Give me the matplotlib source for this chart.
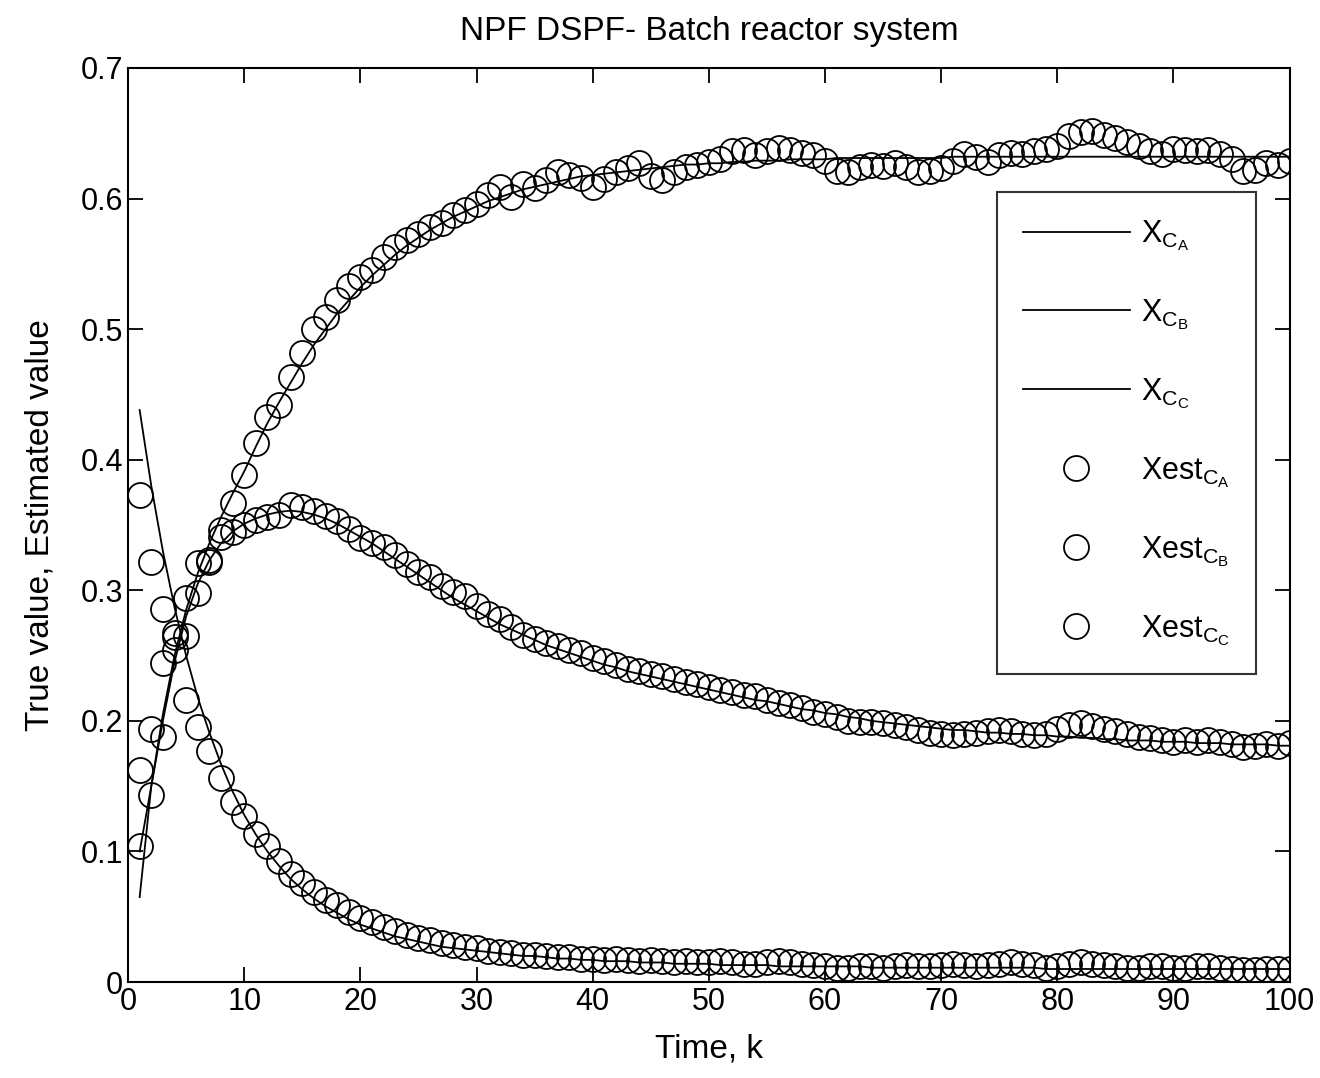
import matplotlib
matplotlib.use('Agg')
import matplotlib.pyplot as plt
import numpy as np

#### Data ####
k = np.arange(1, 101)

xA_true = [0.438, 0.380, 0.330, 0.287, 0.250, 0.218, 0.191, 0.167, 0.146, 0.128,
           0.113, 0.100, 0.089, 0.079, 0.071, 0.064, 0.058, 0.053, 0.048, 0.044,
           0.041, 0.038, 0.035, 0.033, 0.031, 0.029, 0.027, 0.026, 0.025, 0.024,
           0.023, 0.022, 0.021, 0.020, 0.020, 0.019, 0.018, 0.018, 0.017, 0.017,
           0.016, 0.016, 0.016, 0.015, 0.015, 0.015, 0.014, 0.014, 0.014, 0.014,
           0.013, 0.013, 0.013, 0.013, 0.013, 0.012, 0.012, 0.012, 0.012, 0.012,
           0.012, 0.012, 0.012, 0.011, 0.011, 0.011, 0.011, 0.011, 0.011, 0.011,
           0.011, 0.011, 0.011, 0.011, 0.011, 0.011, 0.011, 0.011, 0.010, 0.010,
           0.010, 0.010, 0.010, 0.010, 0.010, 0.010, 0.010, 0.010, 0.010, 0.010,
           0.010, 0.010, 0.010, 0.010, 0.010, 0.010, 0.010, 0.010, 0.010, 0.010]

xB_true = [0.100, 0.150, 0.200, 0.245, 0.280, 0.305, 0.323, 0.336, 0.345, 0.351,
           0.355, 0.358, 0.360, 0.361, 0.360, 0.358, 0.355, 0.351, 0.346, 0.341,
           0.336, 0.330, 0.324, 0.318, 0.312, 0.306, 0.300, 0.294, 0.289, 0.284,
           0.279, 0.274, 0.270, 0.266, 0.262, 0.258, 0.255, 0.252, 0.249, 0.246,
           0.243, 0.241, 0.238, 0.236, 0.234, 0.232, 0.230, 0.228, 0.226, 0.224,
           0.222, 0.220, 0.218, 0.216, 0.215, 0.213, 0.211, 0.209, 0.208, 0.206,
           0.205, 0.203, 0.202, 0.200, 0.199, 0.198, 0.197, 0.196, 0.195, 0.194,
           0.193, 0.193, 0.192, 0.191, 0.191, 0.190, 0.190, 0.189, 0.189, 0.188,
           0.188, 0.187, 0.187, 0.186, 0.186, 0.185, 0.185, 0.185, 0.184, 0.184,
           0.184, 0.183, 0.183, 0.183, 0.182, 0.182, 0.182, 0.182, 0.181, 0.181]

xC_true = [0.065, 0.150, 0.205, 0.250, 0.285, 0.313, 0.336, 0.356, 0.374, 0.391,
           0.410, 0.428, 0.444, 0.459, 0.474, 0.488, 0.500, 0.512, 0.522, 0.532,
           0.541, 0.549, 0.557, 0.564, 0.570, 0.576, 0.581, 0.586, 0.590, 0.594,
           0.598, 0.601, 0.604, 0.607, 0.609, 0.611, 0.613, 0.615, 0.617, 0.618,
           0.619, 0.620, 0.621, 0.622, 0.623, 0.624, 0.625, 0.626, 0.626, 0.627,
           0.627, 0.628, 0.628, 0.629, 0.629, 0.629, 0.630, 0.630, 0.630, 0.630,
           0.631, 0.631, 0.631, 0.631, 0.631, 0.631, 0.631, 0.631, 0.631, 0.631,
           0.632, 0.632, 0.632, 0.632, 0.632, 0.632, 0.632, 0.632, 0.632, 0.632,
           0.632, 0.632, 0.632, 0.632, 0.632, 0.632, 0.632, 0.632, 0.632, 0.632,
           0.632, 0.632, 0.632, 0.632, 0.632, 0.632, 0.632, 0.632, 0.632, 0.632]

xA_est = [0.373, 0.322, 0.286, 0.264, 0.216, 0.195, 0.177, 0.156, 0.138, 0.127,
          0.113, 0.104, 0.093, 0.083, 0.076, 0.069, 0.063, 0.059, 0.054, 0.049,
          0.046, 0.042, 0.039, 0.036, 0.034, 0.032, 0.030, 0.028, 0.027, 0.026,
          0.024, 0.023, 0.022, 0.021, 0.021, 0.020, 0.019, 0.019, 0.018, 0.018,
          0.017, 0.018, 0.017, 0.016, 0.017, 0.016, 0.015, 0.016, 0.015, 0.015,
          0.016, 0.015, 0.014, 0.014, 0.015, 0.016, 0.015, 0.014, 0.013, 0.012,
          0.011, 0.011, 0.012, 0.012, 0.011, 0.012, 0.013, 0.012, 0.012, 0.013,
          0.014, 0.013, 0.012, 0.013, 0.014, 0.015, 0.014, 0.013, 0.011, 0.012,
          0.014, 0.015, 0.014, 0.013, 0.012, 0.011, 0.011, 0.012, 0.012, 0.011,
          0.011, 0.012, 0.012, 0.011, 0.010, 0.009, 0.009, 0.010, 0.010, 0.010]

xB_est = [0.162, 0.194, 0.244, 0.254, 0.294, 0.298, 0.322, 0.341, 0.345, 0.350,
          0.354, 0.356, 0.358, 0.365, 0.364, 0.361, 0.357, 0.353, 0.347, 0.340,
          0.336, 0.333, 0.327, 0.320, 0.314, 0.310, 0.303, 0.299, 0.296, 0.288,
          0.282, 0.278, 0.272, 0.266, 0.263, 0.260, 0.257, 0.254, 0.252, 0.248,
          0.246, 0.243, 0.240, 0.238, 0.236, 0.234, 0.232, 0.230, 0.228, 0.226,
          0.224, 0.222, 0.220, 0.219, 0.216, 0.214, 0.212, 0.210, 0.207, 0.205,
          0.203, 0.200, 0.199, 0.199, 0.198, 0.197, 0.195, 0.193, 0.191, 0.190,
          0.189, 0.190, 0.191, 0.192, 0.193, 0.192, 0.190, 0.189, 0.190, 0.194,
          0.197, 0.198, 0.196, 0.194, 0.192, 0.190, 0.188, 0.187, 0.185, 0.184,
          0.185, 0.184, 0.185, 0.184, 0.182, 0.180, 0.181, 0.182, 0.181, 0.183]

xC_est = [0.104, 0.143, 0.188, 0.267, 0.265, 0.321, 0.323, 0.346, 0.367, 0.388,
          0.413, 0.433, 0.442, 0.463, 0.482, 0.500, 0.509, 0.522, 0.533, 0.540,
          0.545, 0.555, 0.563, 0.568, 0.573, 0.578, 0.581, 0.587, 0.591, 0.596,
          0.603, 0.609, 0.601, 0.611, 0.608, 0.614, 0.620, 0.618, 0.616, 0.609,
          0.615, 0.620, 0.623, 0.627, 0.617, 0.614, 0.620, 0.624, 0.626, 0.628,
          0.630, 0.636, 0.637, 0.633, 0.636, 0.639, 0.637, 0.635, 0.633, 0.629,
          0.621, 0.620, 0.624, 0.626, 0.625, 0.627, 0.624, 0.620, 0.621, 0.623,
          0.629, 0.634, 0.632, 0.628, 0.633, 0.635, 0.634, 0.636, 0.638, 0.640,
          0.648, 0.651, 0.652, 0.649, 0.646, 0.643, 0.640, 0.636, 0.634, 0.638,
          0.637, 0.636, 0.637, 0.634, 0.630, 0.621, 0.622, 0.627, 0.626, 0.629]

labels = [r'$\mathregular{X_{C_A}}$', r'$\mathregular{X_{C_B}}$', r'$\mathregular{X_{C_C}}$',
          r'$\mathregular{Xest_{C_A}}$', r'$\mathregular{Xest_{C_B}}$', r'$\mathregular{Xest_{C_C}}$']

#### Plot ####
plt.rcParams['font.family'] = ['Liberation Sans', 'DejaVu Sans']
fig = plt.figure(figsize=(13.2, 10.78), dpi=100)
ax = fig.add_axes([0.097, 0.089, 0.880, 0.848])

for y in [xA_true, xB_true, xC_true]:
    ax.plot(k, y, color='k', linewidth=1.3)
for y in [xA_est, xB_est, xC_est]:
    ax.plot(k, y, 'o', color='k', markersize=18, markerfacecolor='none', markeredgewidth=1.3)

ax.set_xlim(0, 100)
ax.set_ylim(0, 0.7)
ax.set_xticks(np.arange(0, 101, 10))
ax.set_yticks(np.arange(0, 0.71, 0.1))
ax.set_yticklabels(['0', '0.1', '0.2', '0.3', '0.4', '0.5', '0.6', '0.7'])
ax.tick_params(direction='in', length=11, width=1.3, labelsize=22, top=True, right=True)
for s in ax.spines.values():
    s.set_linewidth(1.5)

ax.set_xlabel('Time, k', fontsize=24, labelpad=12)
ax.set_ylabel('True value, Estimated value', fontsize=24, labelpad=18)
ax.set_title('NPF DSPF- Batch reactor system', fontsize=24, pad=20)

leg = ax.legend(labels, loc='upper left', bbox_to_anchor=(0.748, 0.864), fontsize=22,
                frameon=True, fancybox=False, edgecolor='k', handlelength=3.5,
                labelspacing=1.45, borderpad=0.85, handletextpad=0.35, borderaxespad=0)
leg.get_frame().set_linewidth(1.5)

plt.savefig('out.png', dpi=100)
